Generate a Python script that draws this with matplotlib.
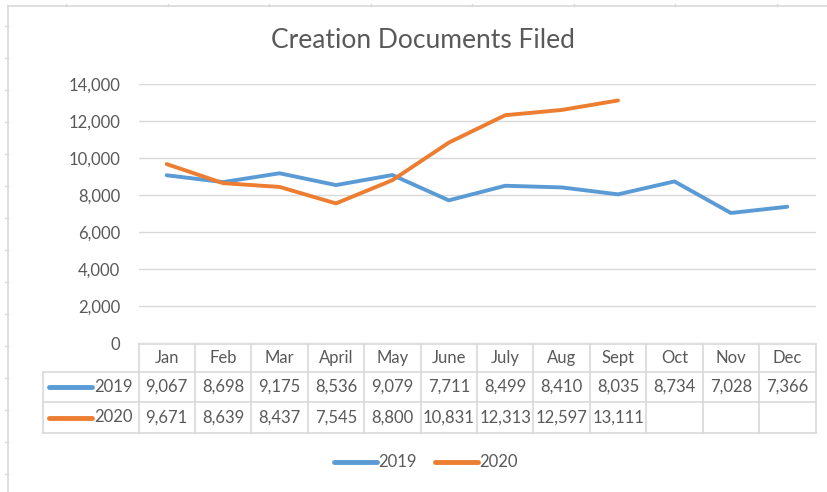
import numpy as np
import matplotlib.pyplot as plt
from matplotlib.lines import Line2D
from matplotlib.transforms import blended_transform_factory

plt.rcParams['font.family'] = ['Lato', 'DejaVu Sans']

# data
months = ["Jan", "Feb", "Mar", "April", "May", "June", "July", "Aug", "Sept",
          "Oct", "Nov", "Dec"]
series_names = ["2019", "2020"]
vals_2019 = [9067, 8698, 9175, 8536, 9079, 7711, 8499, 8410, 8035, 8734, 7028, 7366]
vals_2020 = [9671, 8639, 8437, 7545, 8800, 10831, 12313, 12597, 13111]
yticks = [0, 2000, 4000, 6000, 8000, 10000, 12000, 14000]

BLUE = "#5B9BD5"
ORANGE = "#ED7D31"
TXT = "#595959"
GRID = "#D9D9D9"

W, H = 827, 492
def fx(px): return px / W
def fy(py): return 1 - py / H

fig = plt.figure(figsize=(W / 100, H / 100), dpi=100)

# chart frame + the sheet gridline stubs peeking out
fig.add_artist(Line2D([fx(8), fx(8)], [fy(6), 0], color=GRID, lw=1.2))
fig.add_artist(Line2D([fx(8), 1], [fy(6), fy(6)], color=GRID, lw=1.2))
for py in np.arange(26, H, 32):
    fig.add_artist(Line2D([fx(5), fx(8)], [fy(py), fy(py)], color=GRID, lw=1))
for px in np.arange(66, W, 101.5):
    fig.add_artist(Line2D([fx(px), fx(px)], [fy(4), fy(6)], color=GRID, lw=1))

fig.text(fx(423), fy(40), "Creation Documents Filed", ha="center", va="center",
         fontsize=19, color=TXT)

ax = fig.add_axes([fx(138.5), fy(343), fx(815.5) - fx(138.5), fy(84) - fy(343)])
xs = np.arange(len(months))
ax.set_xlim(-0.5, len(months) - 0.5)
ax.set_ylim(0, 14000)
ax.set_yticks(yticks)
ax.set_yticklabels([f"{v:,}" for v in yticks])
ax.set_xticks([])
ax.tick_params(axis="y", length=0, pad=13, labelsize=12, labelcolor=TXT)
for s in ax.spines.values():
    s.set_visible(False)
ax.grid(axis="y", color=GRID, lw=1)
ax.set_axisbelow(True)

ax.plot(xs, vals_2019, color=BLUE, lw=2.8, solid_capstyle="round",
        solid_joinstyle="round")
ax.plot(xs[:len(vals_2020)], vals_2020, color=ORANGE, lw=2.8,
        solid_capstyle="round", solid_joinstyle="round")

# data table underneath
tr = blended_transform_factory(ax.transData, fig.transFigure)
row_edges = [344, 372, 402, 433]
lw_tab = 1.2
# horizontal lines
fig.add_artist(Line2D([-0.5, 11.5], [fy(row_edges[0])] * 2, transform=tr,
                      color=GRID, lw=lw_tab))
for py in row_edges[1:]:
    fig.add_artist(Line2D([fx(43), fx(815.5)], [fy(py)] * 2, color=GRID, lw=lw_tab))
# vertical lines
for i in range(len(months) + 1):
    fig.add_artist(Line2D([i - 0.5, i - 0.5], [fy(row_edges[0]), fy(row_edges[-1])],
                          transform=tr, color=GRID, lw=lw_tab))
fig.add_artist(Line2D([fx(43), fx(43)], [fy(row_edges[1]), fy(row_edges[-1])],
                      color=GRID, lw=lw_tab))

fs_tab = 12
for i, m in enumerate(months):
    fig.text(i, fy(358), m, transform=tr, ha="center", va="center",
             fontsize=fs_tab, color=TXT)
for r, (name, vals, col) in enumerate([(series_names[0], vals_2019, BLUE),
                                       (series_names[1], vals_2020, ORANGE)]):
    yc = fy((row_edges[r + 1] + row_edges[r + 2]) / 2)
    fig.add_artist(Line2D([fx(49), fx(92)], [yc, yc], color=col, lw=3.5,
                          solid_capstyle="round"))
    fig.text(fx(133), yc, name, ha="right", va="center", fontsize=fs_tab, color=TXT)
    for i, v in enumerate(vals):
        fig.text(i, yc, f"{v:,}", transform=tr, ha="center", va="center",
                 fontsize=fs_tab, color=TXT)

# legend at bottom
for name, col, x0 in [(series_names[0], BLUE, 334), (series_names[1], ORANGE, 435)]:
    fig.add_artist(Line2D([fx(x0), fx(x0 + 43)], [fy(462)] * 2, color=col, lw=3.5,
                          solid_capstyle="round"))
    fig.text(fx(x0 + 44), fy(462), name, ha="left", va="center",
             fontsize=fs_tab, color=TXT)

fig.savefig("out.png", dpi=100, facecolor="white")
